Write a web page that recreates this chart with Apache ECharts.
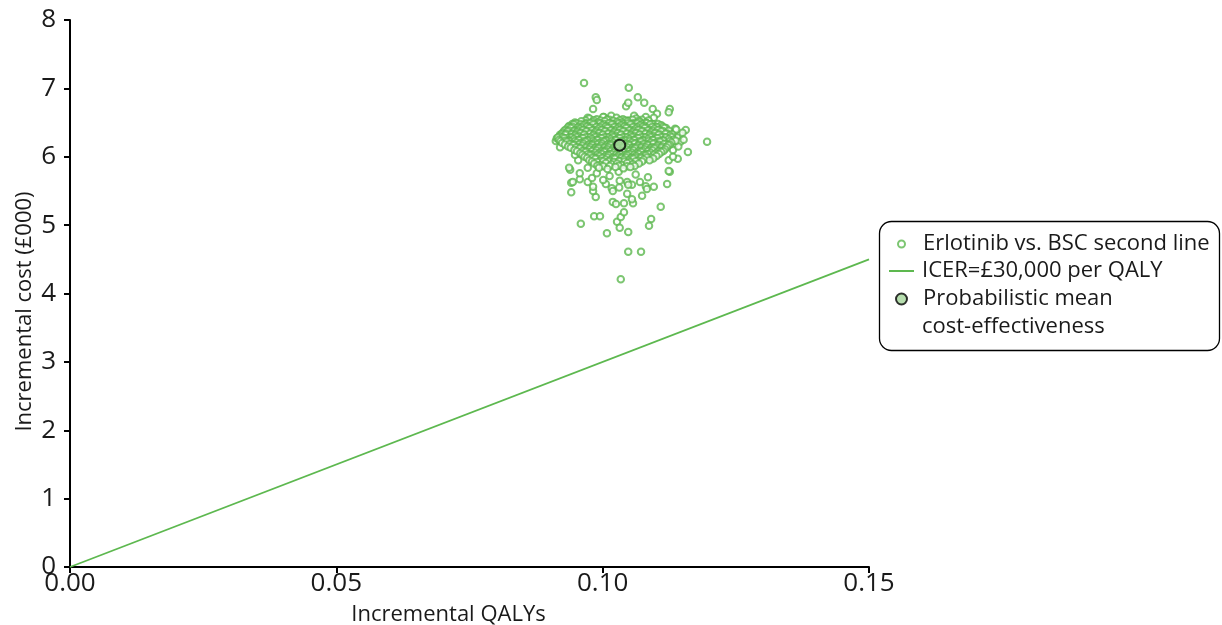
<!DOCTYPE html>
<html>
<head>
<meta charset="utf-8">
<script src="https://cdn.jsdelivr.net/npm/echarts@6/dist/echarts.min.js"></script>
<style>
  html, body { margin: 0; padding: 0; background: #fff; }
  #chart { width: 1222px; height: 625px; }
</style>
</head>
<body>
<div id="chart"></div>
<script>
// Probabilistic sensitivity analysis: erlotinib vs. best supportive care (second line)
// Each pair is [incremental QALYs, incremental cost (£000)].
const outlyingDraws = [
  [0.0965, 7.08], [0.1049, 7.01], [0.1066, 6.87], [0.1078, 6.79], [0.0987, 6.87],
  [0.0989, 6.83], [0.1044, 6.74], [0.1048, 6.79], [0.1094, 6.70], [0.1126, 6.70],
  [0.1124, 6.65], [0.1102, 6.63], [0.0982, 6.70], [0.0944, 6.45], [0.0972, 6.57],
  [0.1002, 6.58], [0.1016, 6.60], [0.1059, 6.60], [0.1081, 6.58], [0.1096, 6.57],
  [0.1109, 6.45], [0.1119, 6.42], [0.1136, 6.41], [0.1156, 6.39], [0.1145, 6.32],
  [0.1196, 6.22], [0.1160, 6.07], [0.1124, 5.95], [0.1141, 5.97], [0.0912, 6.23],
  [0.0920, 6.32], [0.0914, 6.27], [0.0933, 6.29], [0.1132, 6.00], [0.1134, 6.17],
  [0.1132, 6.10], [0.1034, 4.21], [0.1048, 4.61], [0.1072, 4.61], [0.1008, 4.88],
  [0.1048, 4.90], [0.0959, 5.02], [0.1091, 5.09], [0.1087, 4.99], [0.0984, 5.13],
  [0.0995, 5.13], [0.1027, 5.05], [0.1032, 4.96], [0.1034, 5.12], [0.1040, 5.19],
  [0.1109, 5.27], [0.1057, 5.32], [0.1040, 5.32], [0.1019, 5.34], [0.1025, 5.31],
  [0.1046, 5.46], [0.1055, 5.38], [0.1074, 5.43], [0.0987, 5.41], [0.0982, 5.50],
  [0.0982, 5.56], [0.0941, 5.48], [0.0941, 5.62], [0.0944, 5.63], [0.0957, 5.67],
  [0.0972, 5.63], [0.0980, 5.69], [0.1006, 5.60], [0.1017, 5.54], [0.1019, 5.50],
  [0.1032, 5.65], [0.1031, 5.55], [0.1046, 5.63], [0.1055, 5.59], [0.1070, 5.63],
  [0.1081, 5.57], [0.1096, 5.56], [0.1083, 5.53], [0.1121, 5.60], [0.1126, 5.78],
  [0.0939, 5.81], [0.0957, 5.76], [0.0937, 5.84], [0.0954, 5.95], [0.0948, 6.03],
  [0.0920, 6.14], [0.0972, 5.84], [0.0989, 5.76], [0.1001, 5.66], [0.1048, 5.59],
  [0.1124, 5.79], [0.1013, 5.72], [0.1062, 5.74], [0.1085, 5.70], [0.1030, 5.78],
  [0.1140, 6.28], [0.1146, 6.22], [0.1150, 6.35], [0.1142, 6.15], [0.1152, 6.25],
  [0.1138, 6.40]
];

const centralDraws = [
  [0.0975, 6.56], [0.0989, 6.55], [0.1001, 6.58], [0.1013, 6.54], [0.1026, 6.57],
  [0.1038, 6.55], [0.1049, 6.53], [0.1063, 6.56], [0.1074, 6.54],
  [0.0968, 6.53], [0.0983, 6.535], [0.0996, 6.53], [0.1008, 6.54], [0.1020, 6.525],
  [0.1032, 6.535], [0.1043, 6.53], [0.1056, 6.54], [0.1068, 6.525], [0.1086, 6.53],
  [0.0948, 6.50], [0.0960, 6.52], [0.0969, 6.49], [0.0981, 6.51], [0.0992, 6.50],
  [0.1004, 6.52], [0.1015, 6.49], [0.1027, 6.51], [0.1036, 6.50], [0.1047, 6.52],
  [0.1058, 6.49], [0.1069, 6.51], [0.1081, 6.50], [0.1092, 6.48],
  [0.0943, 6.48], [0.0951, 6.485], [0.0959, 6.475], [0.0968, 6.48], [0.0977, 6.49],
  [0.0986, 6.475], [0.0995, 6.485], [0.1003, 6.48], [0.1012, 6.49], [0.1021, 6.475],
  [0.1030, 6.485], [0.1039, 6.48], [0.1048, 6.49], [0.1057, 6.475], [0.1065, 6.485],
  [0.1074, 6.48], [0.1083, 6.49], [0.1095, 6.475], [0.1104, 6.48],
  [0.0937, 6.45], [0.0946, 6.47], [0.0955, 6.44], [0.0964, 6.46], [0.0973, 6.45],
  [0.0982, 6.47], [0.0990, 6.44], [0.0999, 6.46], [0.1008, 6.45], [0.1017, 6.47],
  [0.1025, 6.44], [0.1034, 6.46], [0.1043, 6.45], [0.1052, 6.47], [0.1061, 6.44],
  [0.1070, 6.46], [0.1079, 6.45], [0.1089, 6.47], [0.1100, 6.44], [0.1110, 6.46],
  [0.0935, 6.43], [0.0944, 6.435], [0.0953, 6.425], [0.0962, 6.43], [0.0970, 6.44],
  [0.0979, 6.425], [0.0988, 6.435], [0.0996, 6.43], [0.1005, 6.44], [0.1014, 6.425],
  [0.1022, 6.435], [0.1031, 6.43], [0.1040, 6.44], [0.1048, 6.425], [0.1057, 6.435],
  [0.1066, 6.43], [0.1075, 6.44], [0.1084, 6.425], [0.1093, 6.435], [0.1103, 6.43],
  [0.1113, 6.44],
  [0.0931, 6.40], [0.0940, 6.42], [0.0949, 6.39], [0.0957, 6.41], [0.0966, 6.40],
  [0.0975, 6.42], [0.0983, 6.39], [0.0992, 6.41], [0.1001, 6.40], [0.1009, 6.42],
  [0.1018, 6.39], [0.1027, 6.41], [0.1035, 6.40], [0.1044, 6.42], [0.1053, 6.39],
  [0.1062, 6.41], [0.1070, 6.40], [0.1079, 6.42], [0.1088, 6.39], [0.1097, 6.41],
  [0.1107, 6.40], [0.1116, 6.42],
  [0.0928, 6.38], [0.0937, 6.385], [0.0946, 6.375], [0.0954, 6.38], [0.0963, 6.39],
  [0.0971, 6.375], [0.0980, 6.385], [0.0989, 6.38], [0.0998, 6.39], [0.1006, 6.375],
  [0.1015, 6.385], [0.1024, 6.38], [0.1032, 6.39], [0.1041, 6.375], [0.1050, 6.385],
  [0.1059, 6.38], [0.1067, 6.39], [0.1076, 6.375], [0.1085, 6.385], [0.1094, 6.38],
  [0.1104, 6.39], [0.1113, 6.375], [0.1124, 6.38],
  [0.0925, 6.35], [0.0934, 6.37], [0.0943, 6.34], [0.0952, 6.36], [0.0960, 6.35],
  [0.0969, 6.37], [0.0978, 6.34], [0.0986, 6.36], [0.0995, 6.35], [0.1004, 6.37],
  [0.1012, 6.34], [0.1021, 6.36], [0.1030, 6.35], [0.1038, 6.37], [0.1047, 6.34],
  [0.1056, 6.36], [0.1064, 6.35], [0.1073, 6.37], [0.1082, 6.34], [0.1091, 6.36],
  [0.1100, 6.35], [0.1110, 6.37], [0.1121, 6.34],
  [0.0923, 6.33], [0.0932, 6.335], [0.0941, 6.325], [0.0950, 6.33], [0.0958, 6.34],
  [0.0967, 6.325], [0.0976, 6.335], [0.0984, 6.33], [0.0993, 6.34], [0.1002, 6.325],
  [0.1010, 6.335], [0.1019, 6.33], [0.1028, 6.34], [0.1036, 6.325], [0.1045, 6.335],
  [0.1054, 6.33], [0.1062, 6.34], [0.1071, 6.325], [0.1080, 6.335], [0.1089, 6.33],
  [0.1098, 6.34], [0.1108, 6.325], [0.1118, 6.335], [0.1130, 6.33],
  [0.0921, 6.30], [0.0930, 6.32], [0.0939, 6.29], [0.0948, 6.31], [0.0956, 6.30],
  [0.0965, 6.32], [0.0974, 6.29], [0.0982, 6.31], [0.0991, 6.30], [0.1000, 6.32],
  [0.1008, 6.29], [0.1017, 6.31], [0.1026, 6.30], [0.1034, 6.32], [0.1043, 6.29],
  [0.1052, 6.31], [0.1060, 6.30], [0.1069, 6.32], [0.1078, 6.29], [0.1087, 6.31],
  [0.1096, 6.30], [0.1105, 6.32], [0.1115, 6.29], [0.1126, 6.31],
  [0.0916, 6.28], [0.0925, 6.285], [0.0934, 6.275], [0.0942, 6.28], [0.0951, 6.29],
  [0.0960, 6.275], [0.0968, 6.285], [0.0977, 6.28], [0.0986, 6.29], [0.0994, 6.275],
  [0.1003, 6.285], [0.1012, 6.28], [0.1020, 6.29], [0.1029, 6.275], [0.1038, 6.285],
  [0.1046, 6.28], [0.1055, 6.29], [0.1064, 6.275], [0.1072, 6.285], [0.1081, 6.28],
  [0.1090, 6.29], [0.1099, 6.275], [0.1109, 6.285], [0.1119, 6.28], [0.1129, 6.29],
  [0.0918, 6.25], [0.0928, 6.27], [0.0937, 6.24], [0.0946, 6.26], [0.0954, 6.25],
  [0.0963, 6.27], [0.0972, 6.24], [0.0980, 6.26], [0.0989, 6.25], [0.0998, 6.27],
  [0.1006, 6.24], [0.1015, 6.26], [0.1024, 6.25], [0.1032, 6.27], [0.1041, 6.24],
  [0.1050, 6.26], [0.1058, 6.25], [0.1067, 6.27], [0.1076, 6.24], [0.1085, 6.26],
  [0.1094, 6.25], [0.1103, 6.27], [0.1113, 6.24], [0.1124, 6.26], [0.1133, 6.25],
  [0.0921, 6.23], [0.0930, 6.235], [0.0939, 6.225], [0.0948, 6.23], [0.0956, 6.24],
  [0.0965, 6.225], [0.0973, 6.235], [0.0982, 6.23], [0.0991, 6.24], [0.0999, 6.225],
  [0.1008, 6.235], [0.1017, 6.23], [0.1025, 6.24], [0.1034, 6.225], [0.1043, 6.235],
  [0.1051, 6.23], [0.1060, 6.24], [0.1069, 6.225], [0.1077, 6.235], [0.1086, 6.23],
  [0.1095, 6.24], [0.1104, 6.225], [0.1114, 6.235], [0.1126, 6.23], [0.1137, 6.235],
  [0.0924, 6.20], [0.0933, 6.22], [0.0942, 6.19], [0.0951, 6.21], [0.0959, 6.20],
  [0.0968, 6.22], [0.0977, 6.19], [0.0985, 6.21], [0.0994, 6.20], [0.1003, 6.22],
  [0.1011, 6.19], [0.1020, 6.21], [0.1029, 6.20], [0.1037, 6.22], [0.1046, 6.19],
  [0.1055, 6.21], [0.1063, 6.20], [0.1072, 6.22], [0.1081, 6.19], [0.1090, 6.21],
  [0.1099, 6.20], [0.1108, 6.22], [0.1118, 6.19], [0.1129, 6.21],
  [0.0929, 6.18], [0.0938, 6.185], [0.0947, 6.175], [0.0956, 6.18], [0.0964, 6.19],
  [0.0973, 6.175], [0.0982, 6.185], [0.0990, 6.18], [0.0999, 6.19], [0.1008, 6.175],
  [0.1016, 6.185], [0.1025, 6.18], [0.1042, 6.185], [0.1051, 6.18], [0.1060, 6.19],
  [0.1068, 6.175], [0.1077, 6.185], [0.1086, 6.18], [0.1095, 6.19], [0.1105, 6.175],
  [0.1115, 6.185], [0.1126, 6.18],
  [0.0935, 6.15], [0.0945, 6.17], [0.0954, 6.14], [0.0962, 6.16], [0.0971, 6.15],
  [0.0980, 6.17], [0.0988, 6.14], [0.0997, 6.16], [0.1006, 6.15], [0.1014, 6.17],
  [0.1023, 6.14], [0.1032, 6.16], [0.1040, 6.15], [0.1049, 6.17], [0.1058, 6.14],
  [0.1066, 6.16], [0.1075, 6.15], [0.1084, 6.17], [0.1093, 6.14], [0.1102, 6.16],
  [0.1112, 6.15], [0.1123, 6.17],
  [0.0940, 6.13], [0.0950, 6.135], [0.0959, 6.125], [0.0968, 6.13], [0.0977, 6.14],
  [0.0985, 6.125], [0.0994, 6.135], [0.1003, 6.13], [0.1011, 6.14], [0.1020, 6.125],
  [0.1029, 6.135], [0.1038, 6.13], [0.1046, 6.14], [0.1055, 6.125], [0.1064, 6.135],
  [0.1072, 6.13], [0.1081, 6.14], [0.1090, 6.125], [0.1100, 6.135], [0.1110, 6.13],
  [0.1120, 6.14],
  [0.0947, 6.10], [0.0957, 6.12], [0.0966, 6.09], [0.0975, 6.11], [0.0983, 6.10],
  [0.0992, 6.12], [0.1001, 6.09], [0.1009, 6.11], [0.1018, 6.10], [0.1027, 6.12],
  [0.1035, 6.09], [0.1044, 6.11], [0.1053, 6.10], [0.1061, 6.12], [0.1070, 6.09],
  [0.1079, 6.11], [0.1088, 6.10], [0.1097, 6.12], [0.1107, 6.09], [0.1117, 6.11],
  [0.0952, 6.08], [0.0962, 6.085], [0.0971, 6.075], [0.0980, 6.08], [0.0989, 6.09],
  [0.0997, 6.075], [0.1006, 6.085], [0.1015, 6.08], [0.1024, 6.09], [0.1032, 6.075],
  [0.1041, 6.085], [0.1050, 6.08], [0.1058, 6.09], [0.1067, 6.075], [0.1076, 6.085],
  [0.1085, 6.08], [0.1094, 6.09], [0.1104, 6.075], [0.1114, 6.085],
  [0.0958, 6.05], [0.0968, 6.07], [0.0977, 6.04], [0.0986, 6.06], [0.0994, 6.05],
  [0.1003, 6.07], [0.1012, 6.04], [0.1020, 6.06], [0.1029, 6.05], [0.1038, 6.07],
  [0.1046, 6.04], [0.1055, 6.06], [0.1064, 6.05], [0.1072, 6.07], [0.1081, 6.04],
  [0.1090, 6.06], [0.1100, 6.05], [0.1110, 6.07],
  [0.0962, 6.03], [0.0972, 6.035], [0.0981, 6.025], [0.0990, 6.03], [0.0999, 6.04],
  [0.1007, 6.025], [0.1016, 6.035], [0.1025, 6.03], [0.1033, 6.04], [0.1042, 6.025],
  [0.1051, 6.035], [0.1059, 6.03], [0.1068, 6.04], [0.1077, 6.025], [0.1086, 6.035],
  [0.1096, 6.03], [0.1106, 6.04],
  [0.0966, 6.00], [0.0976, 6.02], [0.0985, 5.99], [0.0994, 6.01], [0.1003, 6.00],
  [0.1011, 6.02], [0.1020, 5.99], [0.1029, 6.01], [0.1037, 6.00], [0.1046, 6.02],
  [0.1055, 5.99], [0.1063, 6.01], [0.1072, 6.00], [0.1081, 6.02], [0.1091, 5.99],
  [0.1101, 6.01],
  [0.0971, 5.98], [0.0981, 5.985], [0.0990, 5.975], [0.0999, 5.98], [0.1009, 5.99],
  [0.1018, 5.975], [0.1027, 5.985], [0.1035, 5.98], [0.1044, 5.99], [0.1053, 5.975],
  [0.1062, 5.985], [0.1072, 5.98], [0.1083, 5.99], [0.1095, 5.975],
  [0.0975, 5.95], [0.0986, 5.97], [0.0996, 5.94], [0.1005, 5.96], [0.1014, 5.95],
  [0.1023, 5.97], [0.1031, 5.94], [0.1040, 5.96], [0.1049, 5.95], [0.1058, 5.97],
  [0.1067, 5.94], [0.1077, 5.96], [0.1088, 5.95],
  [0.0980, 5.93], [0.0990, 5.925], [0.1001, 5.935], [0.1011, 5.93], [0.1021, 5.925],
  [0.1031, 5.935], [0.1041, 5.93], [0.1051, 5.925], [0.1062, 5.935], [0.1074, 5.93],
  [0.0984, 5.90], [0.0995, 5.88], [0.1006, 5.91], [0.1017, 5.89], [0.1027, 5.90],
  [0.1036, 5.88], [0.1046, 5.91], [0.1057, 5.89], [0.1068, 5.90],
  [0.0990, 5.87], [0.1001, 5.86], [0.1013, 5.865], [0.1030, 5.87], [0.1046, 5.86],
  [0.1060, 5.865],
  [0.0993, 5.84], [0.1009, 5.82], [0.1024, 5.85], [0.1039, 5.83], [0.1052, 5.85]
];

// Probabilistic mean of the simulations
const meanPoint = [[0.1032, 6.17]];

// Willingness-to-pay threshold: £30,000 per QALY (cost in £000)
const icerThreshold = [[0, 0], [0.15, 4.5]];

const xTicks = { min: 0, max: 0.15, interval: 0.05 };
const yTicks = { min: 0, max: 8, interval: 1 };

const seriesNames = [
  'Erlotinib vs. BSC second line',
  'ICER=£30,000 per QALY',
  'Probabilistic mean cost-effectiveness'
];

const green = '#5db84f';
const ink = '#1a1a1a';
const font = 'Open Sans';
const fontSize = 22;
const tickFontSize = 26;

const chart = echarts.init(document.getElementById('chart'), null, { renderer: 'canvas' });

function legendEntry(top, left, size, textPad, data, extra) {
  return Object.assign({
    orient: 'vertical',
    top: top,
    left: left,
    padding: 0,
    itemWidth: size[0],
    itemHeight: size[1],
    selectedMode: false,
    textStyle: { fontFamily: font, fontSize: fontSize, color: ink, lineHeight: 24, padding: [0, 0, 0, textPad] },
    data: data
  }, extra || {});
}

chart.setOption({
  animation: false,
  backgroundColor: '#fff',
  grid: { left: 70, right: 353, top: 20, bottom: 58, containLabel: false, outerBoundsMode: 'none' },
  xAxis: {
    type: 'value',
    min: xTicks.min, max: xTicks.max, interval: xTicks.interval,
    name: 'Incremental QALYs',
    nameLocation: 'middle',
    nameGap: 37,
    nameMoveOverlap: false,
    nameTextStyle: { fontFamily: font, fontSize: fontSize, color: ink, padding: [0, 42, 0, 0] },
    axisLine: { lineStyle: { color: '#000', width: 2 } },
    axisTick: { inside: false, length: 6, lineStyle: { color: '#000', width: 2 } },
    axisLabel: { fontFamily: font, fontSize: tickFontSize, color: ink, margin: 4, lineHeight: 26, formatter: v => v.toFixed(2) },
    splitLine: { show: false }
  },
  yAxis: {
    type: 'value',
    min: yTicks.min, max: yTicks.max, interval: yTicks.interval,
    name: 'Incremental cost (£000)',
    nameLocation: 'middle',
    nameGap: 34,
    nameMoveOverlap: false,
    nameTextStyle: { fontFamily: font, fontSize: fontSize, color: ink, padding: [0, 36, 0, 0] },
    axisLine: { lineStyle: { color: '#000', width: 2 } },
    axisTick: { inside: false, length: 6, lineStyle: { color: '#000', width: 2 } },
    axisLabel: { fontFamily: font, fontSize: tickFontSize, color: ink, margin: 14 },
    splitLine: { show: false }
  },
  legend: [
    legendEntry(232, 897, [7, 7], 13, [{ name: seriesNames[0], icon: 'emptyCircle' }]),
    legendEntry(259, 889, [25, 2], 3, [{ name: seriesNames[1], icon: 'rect' }]),
    legendEntry(287, 895, [11, 11], 11, [{ name: seriesNames[2], icon: 'circle' }],
      { formatter: () => 'Probabilistic mean' })
  ],
  graphic: [
    {
      type: 'rect', z: -1,
      shape: { x: 879.5, y: 221.5, width: 340, height: 129, r: 12 },
      style: { fill: '#fff', stroke: '#000', lineWidth: 1.3 }
    },
    {
      type: 'text', left: 922, top: 315, z: 10,
      style: { text: 'cost-effectiveness', font: fontSize + 'px "Open Sans"', fill: ink, lineHeight: 24 }
    }
  ],
  series: [
    {
      name: seriesNames[0],
      type: 'scatter',
      data: outlyingDraws.concat(centralDraws),
      symbol: 'emptyCircle',
      symbolSize: 6.5,
      itemStyle: { color: green, borderColor: green, borderWidth: 1.5 },
      z: 2
    },
    {
      name: seriesNames[1],
      type: 'line',
      data: icerThreshold,
      symbol: 'none',
      lineStyle: { color: green, width: 1.8 },
      itemStyle: { color: green },
      z: 1
    },
    {
      name: seriesNames[2],
      type: 'scatter',
      data: meanPoint,
      symbol: 'circle',
      symbolSize: 11,
      itemStyle: { color: '#a5d69b', borderColor: '#000', borderWidth: 2 },
      z: 5
    }
  ]
});
</script>
</body>
</html>
